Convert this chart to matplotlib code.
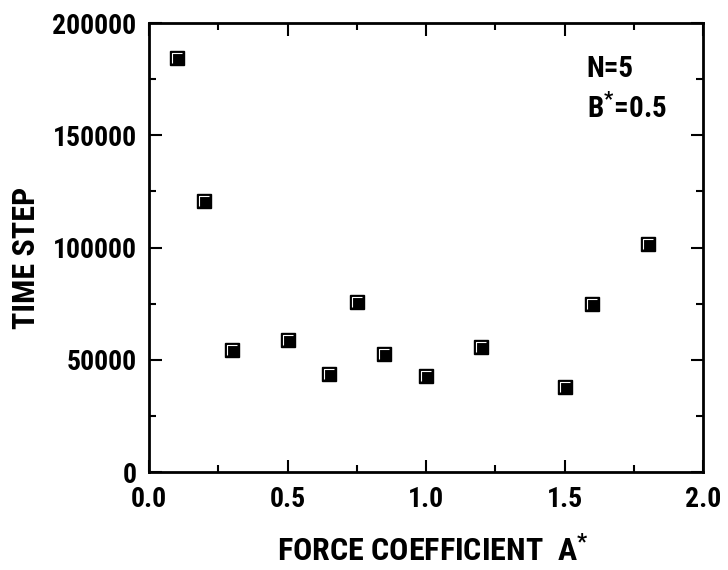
import matplotlib
matplotlib.use("Agg")
import matplotlib.pyplot as plt
from matplotlib import font_manager
from matplotlib.path import Path
from matplotlib.ticker import MultipleLocator

# data
force_coef = [0.1, 0.2, 0.3, 0.5, 0.65, 0.75, 0.85, 1.0, 1.2, 1.5, 1.6, 1.8]
time_step = [184500, 120700, 54300, 58800, 43600, 75700, 52600, 42800, 55700, 38000, 74700, 101500]

x_ticks = [0.0, 0.5, 1.0, 1.5, 2.0]
y_ticks = [0, 50000, 100000, 150000, 200000]

# pick a narrow sans with a real bold face (reference looks like Arial Narrow Bold)
bold_fonts = {f.name for f in font_manager.fontManager.ttflist
              if isinstance(f.weight, int) and f.weight >= 700 or f.weight == 'bold'}
font = 'Liberation Sans'
for cand in ['Liberation Sans Narrow', 'Arial Narrow', 'Roboto Condensed', 'PT Sans Narrow',
             'Archivo Narrow', 'Asap Condensed', 'Barlow Semi Condensed']:
    if cand in bold_fonts:
        font = cand
        break

plt.rcParams['font.family'] = [font, 'DejaVu Sans']
plt.rcParams['font.weight'] = 'bold'
plt.rcParams['mathtext.fontset'] = 'custom'
plt.rcParams['mathtext.rm'] = font + ':bold'
plt.rcParams['mathtext.bf'] = font + ':bold'
plt.rcParams['mathtext.it'] = font + ':bold'
plt.rcParams['mathtext.default'] = 'bf'

fig = plt.figure(figsize=(7.28, 5.70), dpi=100)
ax = fig.add_axes([0.2047, 0.1719, 0.7610, 0.7877])

# black squares with a thin white highlight on the top and left edges
corner = Path([(-1, -1), (-1, 1), (1, 1)], [Path.MOVETO, Path.LINETO, Path.LINETO])
ax.plot(force_coef, time_step, 's', ms=9.5, mfc='black', mec='black', mew=1, ls='none')
ax.plot(force_coef, time_step, marker=corner, ms=7, mfc='none', mec='white', mew=0.8, ls='none')

ax.set_xlim(0, 2.0)
ax.set_ylim(0, 200000)
ax.set_xticks(x_ticks)
ax.set_yticks(y_ticks)
ax.set_xticklabels([f"{v:.1f}" for v in x_ticks])
ax.set_yticklabels([str(v) for v in y_ticks])
ax.xaxis.set_minor_locator(MultipleLocator(0.25))
ax.yaxis.set_minor_locator(MultipleLocator(25000))

ax.tick_params(which='both', direction='in', top=True, right=True, width=1.5, labelsize=20)
ax.tick_params(axis='y', pad=9)
ax.tick_params(axis='x', pad=10)
ax.tick_params(which='major', length=9)
ax.tick_params(which='minor', length=5)
for sp in ax.spines.values():
    sp.set_linewidth(2)

ax.set_xlabel(r"FORCE COEFFICIENT  A$^{*}$", fontsize=23, fontweight='bold')
ax.xaxis.label.set_va('baseline')
ax.xaxis.set_label_coords(0.512, -0.200)
ax.set_ylabel("TIME STEP", fontsize=23, fontweight='bold')
ax.yaxis.label.set_va('center')
ax.yaxis.set_label_coords(-0.222, 0.477)

ax.text(0.79, 0.88, "N=5", transform=ax.transAxes, fontsize=21, fontweight='bold', va='baseline')
ax.text(0.79, 0.79, r"B$^{*}$=0.5", transform=ax.transAxes, fontsize=21, fontweight='bold',
        va='baseline')

fig.savefig("out.png", dpi=100)
